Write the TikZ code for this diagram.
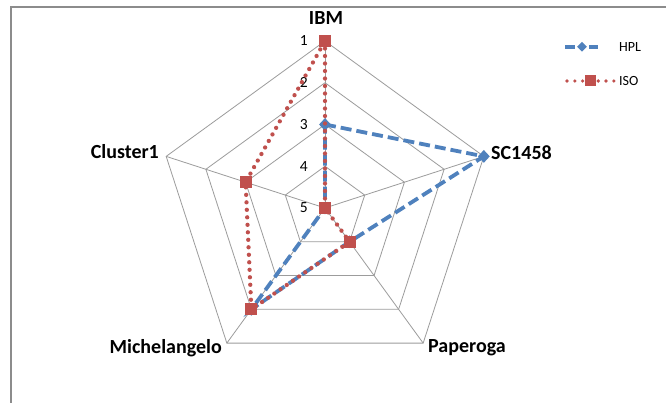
\documentclass[tikz,border=0pt]{standalone}
\usepackage{fontspec}
\setmainfont{Carlito}
\usetikzlibrary{shapes.geometric,calc}
\definecolor{hplblue}{HTML}{4F81BD}
\definecolor{isored}{HTML}{C0504D}
\definecolor{gridgray}{HTML}{9C9C9C}
\definecolor{framegray}{HTML}{8C8C8C}
\begin{document}
\begin{tikzpicture}[x=1pt,y=1pt,
  gridline/.style={draw=gridgray, line width=0.8pt},
  hplline/.style={draw=hplblue, line width=3.8pt, dash pattern=on 11pt off 5pt},
  isoline/.style={draw=isored, line width=4.3pt, line cap=round, dash pattern=on 0pt off 7.5pt},
  hplmark/.style={diamond, fill=hplblue, inner sep=0pt, minimum width=12pt, minimum height=13pt},
  isomark/.style={rectangle, fill=isored, inner sep=0pt, minimum size=12pt},
  catlabel/.style={font=\fontsize{20}{22}\selectfont\bfseries, inner sep=0pt},
  ticklabel/.style={font=\fontsize{15.5}{17}\selectfont, inner sep=0pt, anchor=east},
  legtext/.style={font=\fontsize{14}{16}\selectfont, inner sep=0pt, anchor=west}
]
\useasboundingbox (0,0) rectangle (666,403);
\fill[white] (0,0) rectangle (666,403);
\draw[draw=framegray, line width=1.2pt] (11,0) -- (11,396) -- (666,396);
\coordinate (C) at (325,195);
\foreach \nm/\ang in {ibm/90, sc/18, pap/-54, mic/-126, clu/162}{
  \foreach \v in {1,2,3,4,5}{
    \coordinate (\nm\v) at ($(C)+(\ang:{167*(5-\v)/4})$);
  }
}
% grid
\foreach \v in {1,2,3,4}{
  \draw[gridline] (ibm\v) -- (sc\v) -- (pap\v) -- (mic\v) -- (clu\v) -- cycle;
}
\foreach \nm in {ibm,sc,pap,mic,clu}{
  \draw[gridline] (C) -- (\nm1);
}
% tick labels
\foreach \v in {1,2,3,4,5}{
  \node[ticklabel] (t\v) at ([xshift=-17pt]ibm\v) {\v};
}
% HPL series
\draw[hplline] (ibm3) -- (sc1) -- (pap4) -- (mic2) -- (clu5) -- cycle;
\node[hplmark] (h1) at (ibm3) {};
\node[hplmark] (h2) at (sc1) {};
\node[hplmark] (h3) at (pap4) {};
\node[hplmark] (h4) at (mic2) {};
\node[hplmark] (h5) at (clu5) {};
% ISO series
\draw[isoline] (ibm1) -- (sc5) -- (pap4) -- (mic2) -- (clu3) -- cycle;
\node[isomark] (s1) at (ibm1) {};
\node[isomark] (s2) at (sc5) {};
\node[isomark] (s3) at (pap4) {};
\node[isomark] (s4) at (mic2) {};
\node[isomark] (s5) at (clu3) {};
% category labels
\node[catlabel, anchor=base] (lIBM) at (326,378) {IBM};
\node[catlabel, anchor=base west] (lSC) at (491,243) {SC1458};
\node[catlabel, anchor=base west] (lPap) at (428,50) {Paperoga};
\node[catlabel, anchor=base east] (lMic) at (222,49) {Michelangelo};
\node[catlabel, anchor=base east] (lClu) at (159,244) {Cluster1};
% legend
\node[hplmark, minimum width=10pt, minimum height=10pt] (lhm) at (582,356.3) {};
\coordinate (lh1) at (565,356.3);
\coordinate (lh2) at (598,356.3);
\draw[hplline, solid] (lh1) -- ([xshift=-2pt]lhm.west);
\draw[hplline, solid] ([xshift=2pt]lhm.east) -- (lh2);
\node[legtext] (lhpl) at (619,356.3) {HPL};
\coordinate (li1) at (567,322);
\coordinate (li2) at (614,322);
\draw[isoline, line width=3.6pt, dash pattern=on 0pt off 7.8pt] (li1) -- (li2);
\node[isomark, minimum size=11pt] (lim) at (590,322) {};
\node[legtext] (liso) at (619,322) {ISO};
\end{tikzpicture}
\end{document}
